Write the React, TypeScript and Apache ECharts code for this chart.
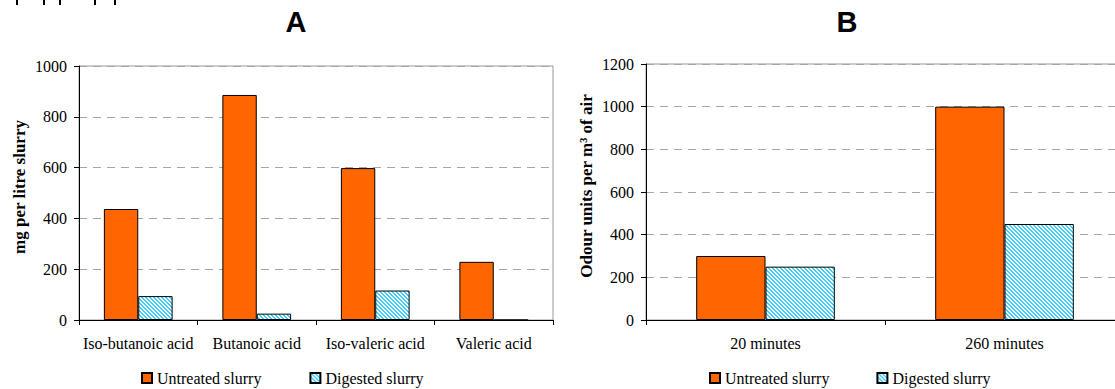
import React, { useEffect, useRef } from "react";
import * as echarts from "echarts";

// Panel A: volatile fatty acids in slurry (mg per litre)
const acidCategories = ["Iso-butanoic acid", "Butanoic acid", "Iso-valeric acid", "Valeric acid"];
const acidUntreated = [437, 886, 598, 229];
const acidDigested = [94, 25, 116, 0];
const acidAxis = { min: 0, max: 1000, interval: 200 };
const acidTitle = "mg per litre slurry";

// Panel B: odour concentration after spreading
const odourCategories = ["20 minutes", "260 minutes"];
const odourUntreated = [300, 1000];
const odourDigested = [250, 450];
const odourAxis = { min: 0, max: 1200, interval: 200 };
const odourTitle = "Odour units per m³ of air";

const seriesNames = ["Untreated slurry", "Digested slurry"];

const ORANGE = "#FF6600";
const CYAN = "#3FD0FF";
const SERIF = "'Liberation Serif', 'Times New Roman', serif";
const SANS = "'Liberation Sans', Arial, sans-serif";

// The canvas is a little wider than the page so panel B runs off the right edge
const CANVAS_W = 1125;
const CANVAS_H = 389;

// Diagonal "\" hatching used for the digested slurry bars
function makeHatch(): HTMLCanvasElement {
  const size = 4;
  const c = document.createElement("canvas");
  c.width = size;
  c.height = size;
  const ctx = c.getContext("2d")!;
  ctx.fillStyle = "#ffffff";
  ctx.fillRect(0, 0, size, size);
  ctx.fillStyle = CYAN;
  for (let y = 0; y < size; y++) {
    for (let x = 0; x < size; x++) {
      if (((x - y + size) % size) < 2) ctx.fillRect(x, y, 1, 1);
    }
  }
  return c;
}

export default function App() {
  const ref = useRef<HTMLDivElement>(null);

  useEffect(() => {
    if (!ref.current) return;
    const chart = echarts.init(ref.current, undefined, { renderer: "svg" });
    const hatch = { image: makeHatch(), repeat: "repeat", imageWidth: 4, imageHeight: 4 } as any;

    const yLabel = { color: "#000", fontFamily: SERIF, fontSize: 16, margin: 12, formatter: (v: number) => String(v) };
    const xLabel = { color: "#000", fontFamily: SERIF, fontSize: 16, margin: 15, interval: 0 };
    const splitLine = { show: true, lineStyle: { color: "#A6A6A6", type: [8, 6] as any, width: 1 } };
    const axisLine = { show: true, lineStyle: { color: "#000", width: 1 } };
    const tick = { show: true, length: 5, lineStyle: { color: "#000" } };
    const legendText = { color: "#000", fontFamily: SERIF, fontSize: 16 };

    const barStyle = (fill: any) => ({ color: fill, borderColor: "#000", borderWidth: 1 });

    // Rotated y-axis titles
    const axisTitle = (text: string, x: number, y: number) => ({
      type: "text",
      x,
      y,
      rotation: Math.PI / 2,
      style: {
        text,
        font: `bold 17px ${SERIF}`,
        fill: "#000",
        textAlign: "center",
        textVerticalAlign: "middle",
      },
    });

    chart.setOption({
      animation: false,
      graphic: [
        { type: "text", x: 296, y: 22, style: { text: "A", font: `bold 29px ${SANS}`, fill: "#000", textAlign: "center", textVerticalAlign: "middle" } },
        { type: "text", x: 847, y: 22, style: { text: "B", font: `bold 29px ${SANS}`, fill: "#000", textAlign: "center", textVerticalAlign: "middle" } },
        axisTitle(acidTitle, 19, 187),
        axisTitle(odourTitle, 586, 186),
        ...[16, 43, 59, 94, 114].map((x) => ({
          type: "rect",
          shape: { x, y: 0, width: 2, height: 5 },
          style: { fill: "#000" },
        })),
      ],
      grid: [
        { left: 79, right: CANVAS_W - 553, top: 66, bottom: CANVAS_H - 320, show: true, borderColor: "#999", borderWidth: 1, backgroundColor: "transparent" },
        { left: 646, right: CANVAS_W - 1124, top: 64, bottom: CANVAS_H - 320, show: true, borderColor: "#999", borderWidth: 1, backgroundColor: "transparent" },
      ],
      legend: [
        { data: seriesNames, left: 141, top: 370, padding: 0, itemWidth: 10, itemHeight: 10, itemGap: 48, icon: "rect", textStyle: legendText },
        { data: seriesNames, left: 709, top: 370, padding: 0, itemWidth: 10, itemHeight: 10, itemGap: 47, icon: "rect", textStyle: legendText },
      ],
      xAxis: [
        { type: "category", gridIndex: 0, data: acidCategories, axisLine, axisTick: tick, axisLabel: xLabel },
        { type: "category", gridIndex: 1, data: odourCategories, axisLine, axisTick: tick, axisLabel: xLabel },
      ],
      yAxis: [
        { type: "value", gridIndex: 0, ...acidAxis, axisLine, axisTick: tick, axisLabel: yLabel, splitLine },
        { type: "value", gridIndex: 1, ...odourAxis, axisLine, axisTick: tick, axisLabel: yLabel, splitLine },
      ],
      series: [
        { name: seriesNames[0], type: "bar", xAxisIndex: 0, yAxisIndex: 0, data: acidUntreated, barGap: 0, barCategoryGap: "42%", itemStyle: barStyle(ORANGE) },
        { name: seriesNames[1], type: "bar", xAxisIndex: 0, yAxisIndex: 0, data: acidDigested, barGap: 0, barCategoryGap: "42%", itemStyle: barStyle(hatch) },
        { name: seriesNames[0], type: "bar", xAxisIndex: 1, yAxisIndex: 1, data: odourUntreated, barGap: 0, barCategoryGap: "42%", itemStyle: barStyle(ORANGE) },
        { name: seriesNames[1], type: "bar", xAxisIndex: 1, yAxisIndex: 1, data: odourDigested, barGap: 0, barCategoryGap: "42%", itemStyle: barStyle(hatch) },
      ],
    });

    return () => chart.dispose();
  }, []);

  return (
    <div style={{ position: "fixed", left: 0, top: 0, width: 1115, height: CANVAS_H, overflow: "hidden", background: "#fff" }}>
      <div ref={ref} style={{ width: CANVAS_W, height: CANVAS_H }} />
    </div>
  );
}
